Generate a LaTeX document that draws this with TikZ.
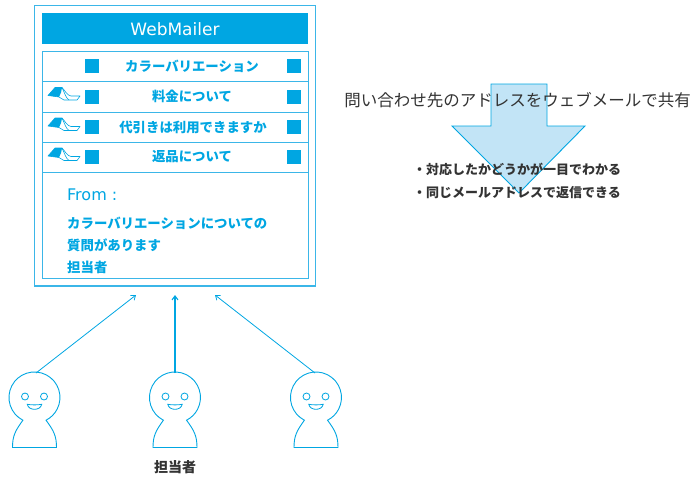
\documentclass[tikz,border=0pt]{standalone}
\usepackage{fontspec}
\setmainfont{Noto Sans CJK JP}
\newfontfamily\latinsans{DejaVu Sans}
\usetikzlibrary{arrows.meta}
\definecolor{mblue}{HTML}{00A6E2}
\definecolor{lblue}{HTML}{3BB6E8}
\definecolor{afill}{HTML}{C2E4F6}
\definecolor{ink}{HTML}{333333}
\tikzset{
  frameline/.style={draw=lblue, line width=1.2pt},
  rowline/.style={draw=lblue, line width=1pt},
  sq/.style={fill=mblue, minimum width=14pt, minimum height=14pt, inner sep=0pt},
  rowtext/.style={text=mblue, font=\bfseries\fontsize{13.4}{15}\selectfont, inner sep=0pt},
  bodytext/.style={text=mblue, font=\bfseries\fontsize{13.4}{15}\selectfont, anchor=west, inner sep=0pt},
  bullet/.style={text=ink, font=\bfseries\fontsize{13}{15}\selectfont, anchor=west, inner sep=0pt},
  conn/.style={draw=mblue, line width=0.8pt, -{Straight Barb[length=4pt,width=6pt]}},
  personline/.style={draw=mblue, line width=0.9pt, fill=white},
  flagicon/.pic={
    % folded ribbon mark
    \draw[mblue, line width=0.6pt, line join=round]
      (-15,-1) -- (-8,-9) -- (-1,-9) .. controls (2,-6) and (4,-1) .. (8,-0.5)
      -- (17,-0.5) -- (14,3.5) -- (1,3.5) -- (-4,0.5) -- cycle;
    \draw[mblue, line width=0.6pt, line join=round]
      (-1,-9) .. controls (1,-5) and (3,2) .. (6,3.5);
    \fill[mblue] (-15,-1) -- (-8,-9) -- (-1,-9) -- (-2,-4) -- (-4,0.5) -- cycle;
  },
  person/.pic={
    \path[personline]
      (-22,50) .. controls (-22,38) and (-19,33) .. (-11.6,22.7)
      arc[start angle=117, end angle=423, radius=25.5]
      .. controls (19,33) and (22,38) .. (22,50) -- cycle;
    \draw[mblue, line width=0.8pt] (-9.5,-1) circle (3.5) (9.5,-1) circle (3.5);
    \draw[mblue, line width=0.8pt] (-7.2,6.8) .. controls (-3,7.6) and (3,7.6) .. (7.2,6.8)
      .. controls (6,13.5) and (-6,13.5) .. cycle;
  }
}
\begin{document}
\begin{tikzpicture}[x=1pt, y=-1pt]
\useasboundingbox (0,0) rectangle (696,477);

% mail client window
\path[frameline] (34.5,5.5) rectangle (315.5,286);
\fill[mblue] (42,13) rectangle (308,44);
\node[text=white, font=\latinsans\fontsize{17}{19}\selectfont, inner sep=0pt] (title) at (175,29) {WebMailer};

% message list and preview pane
\path[rowline] (42,51) rectangle (308,278);
\foreach \y in {81,112,142,172} \draw[rowline] (42,\y) -- (308,\y);

\foreach \y [count=\i] in {66,96.5,127,157} {
  \node[sq] (ls\i) at (92,\y) {};
  \node[sq] (rs\i) at (294,\y) {};
}
\foreach \y in {96.5,127,157} \pic at (63,\y) {flagicon};

\node[rowtext] (r1) at (192,66) {カラーバリエーション};
\node[rowtext] (r2) at (192,96.5) {料金について};
\node[rowtext] (r3) at (193,127) {代引きは利用できますか};
\node[rowtext] (r4) at (192,157) {返品について};

\node[anchor=west, text=mblue, font=\latinsans\fontsize{16}{18}\selectfont, inner sep=0pt] (from) at (67,195) {From :};
\node[bodytext] (b1) at (67,223) {カラーバリエーションについての};
\node[bodytext] (b2) at (67,245) {質問があります};
\node[bodytext] (b3) at (67,267) {担当者};

% shared-address arrow and notes
\draw[fill=afill, draw=mblue, line width=0.9pt, line join=miter]
  (491,84) -- (547,84) -- (547,126) -- (585,126) -- (519,193) -- (452,126) -- (491,126) -- cycle;
\node[text=ink, font=\fontsize{16.5}{18}\selectfont, inner sep=0pt] (share) at (517.5,100)
  {問い合わせ先のアドレスをウェブメールで共有};
\node[bullet] (n1) at (413,169) {・対応したかどうかが一目でわかる};
\node[bullet] (n2) at (413,193) {・同じメールアドレスで返信できる};

% staff members
\foreach \x [count=\i] in {34.5,175,316} {
  \pic at (\x,397.5) {person};
}
\coordinate (p1) at (36,373);
\coordinate (p2) at (175,373);
\coordinate (p3) at (315,373);
\coordinate (in1) at (136,295);
\coordinate (in2) at (175,295);
\coordinate (in3) at (215,295);
\draw[conn] (p1) -- (in1);
\draw[conn, line width=1.1pt] (p2) -- (in2);
\draw[conn] (p3) -- (in3);

\node[text=ink, font=\bfseries\fontsize{14}{16}\selectfont, inner sep=0pt] (staff) at (175,467) {担当者};
\end{tikzpicture}
\end{document}
